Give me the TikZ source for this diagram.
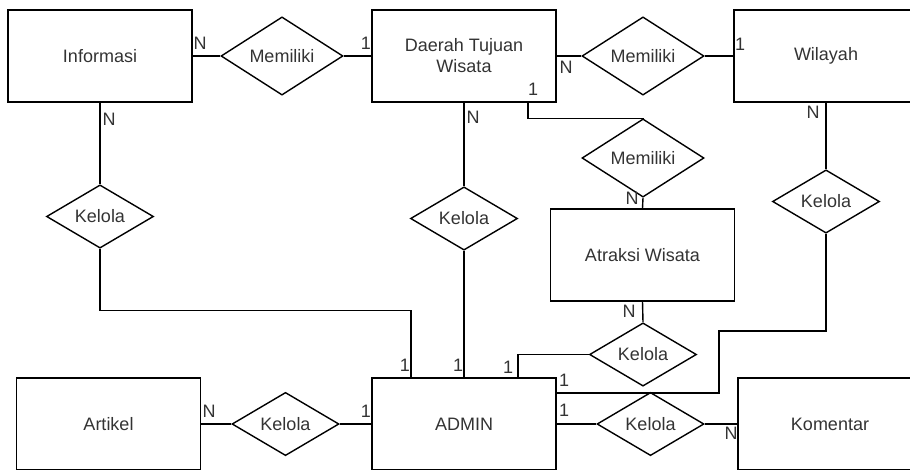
\documentclass[tikz,border=0pt]{standalone}
\usepackage{fontspec}
\setmainfont{Liberation Sans}
\usetikzlibrary{shapes.geometric}
\definecolor{txt}{HTML}{333333}
\tikzset{
  ent/.style={draw, line width=1.4pt, minimum width=184pt, minimum height=92pt, inner sep=0pt, text=txt, align=center, font=\fontsize{18pt}{21pt}\selectfont},
  relbig/.style={draw, diamond, line width=1.4pt, minimum width=122pt, minimum height=62pt, inner sep=0pt, text=txt, font=\fontsize{18pt}{21pt}\selectfont},
  relsm/.style={draw, diamond, line width=1.4pt, minimum width=107pt, minimum height=47pt, inner sep=0pt, text=txt, font=\fontsize{18pt}{21pt}\selectfont},
  card/.style={text=txt, inner sep=0pt, font=\fontsize{18pt}{21pt}\selectfont},
  conn/.style={line width=1.4pt}
}
\begin{document}
\begin{tikzpicture}[x=1pt, y=-1pt]
\clip (0,0) rectangle (910,469);
\useasboundingbox (0,0) rectangle (910,469);
% entities
\node[ent] (informasi) at (100,56) {Informasi};
\node[ent] (daerah) at (464,56) {Daerah Tujuan\\Wisata};
\node[ent] (wilayah) at (826,56) {Wilayah};
\node[ent] (atraksi) at (642.5,255) {Atraksi Wisata};
\node[ent] (artikel) at (108.5,424) {Artikel};
\node[ent] (admin) at (464,424) {ADMIN};
\node[ent] (komentar) at (830,424) {Komentar};
% relationships
\node[relbig] (mem1) at (282,56) {Memiliki};
\node[relbig] (mem2) at (643,56) {Memiliki};
\node[relbig] (mem3) at (643,158) {Memiliki};
\node[relsm] (keli) at (100,216.5) {Kelola};
\node[relsm] (keld) at (464,218.5) {Kelola};
\node[relsm] (kelw) at (826,201.5) {Kelola};
\node[relsm] (kela) at (643,354.5) {Kelola};
\node[relsm] (kelar) at (285.5,424) {Kelola};
\node[relsm] (kelk) at (650.5,424) {Kelola};
% connectors
\draw[conn] (informasi.east) -- (mem1.west);
\draw[conn] (mem1.east) -- (daerah.west);
\draw[conn] (daerah.east) -- (mem2.west);
\draw[conn] (mem2.east) -- (wilayah.west);
\draw[conn] ([xshift=64pt]daerah.south) -- ++(0,16) -| (mem3.north);
\draw[conn] (mem3.south) -- (atraksi.north);
\draw[conn] (daerah.south) -- (keld.north);
\draw[conn] (keld.south) -- (admin.north);
\draw[conn] (informasi.south) -- (keli.north);
\draw[conn] (keli.south) -- ++(0,61.5) -| ([xshift=-53pt]admin.north);
\draw[conn] (atraksi.south) -- (kela.north);
\draw[conn] (kela.west) -| ([xshift=54pt]admin.north);
\draw[conn] (wilayah.south) -- (kelw.north);
\coordinate (cw) at (719,331);
\draw[conn] (kelw.south) |- (cw) |- ([yshift=31pt]admin.east);
\draw[conn] (artikel.east) -- (kelar.west);
\draw[conn] (kelar.east) -- (admin.west);
\draw[conn] (admin.east) -- (kelk.west);
\draw[conn] (kelk.east) -- (komentar.west);
% cardinalities
\node[card] (c1) at (200,43) {N};
\node[card] (c2) at (366,43) {1};
\node[card] (c3) at (109,119) {N};
\node[card] (c4) at (566,67) {N};
\node[card] (c5) at (740,44) {1};
\node[card] (c6) at (533,89) {1};
\node[card] (c7) at (473,117) {N};
\node[card] (c8) at (632,198) {N};
\node[card] (c9) at (813,112) {N};
\node[card] (c10) at (209,411) {N};
\node[card] (c11) at (366,411) {1};
\node[card] (c12) at (405,365) {1};
\node[card] (c13) at (458,365) {1};
\node[card] (c14) at (508,367) {1};
\node[card] (c15) at (564,380) {1};
\node[card] (c16) at (564,410) {1};
\node[card] (c17) at (731,433) {N};
\node[card] (c18) at (629,311) {N};
\end{tikzpicture}
\end{document}
